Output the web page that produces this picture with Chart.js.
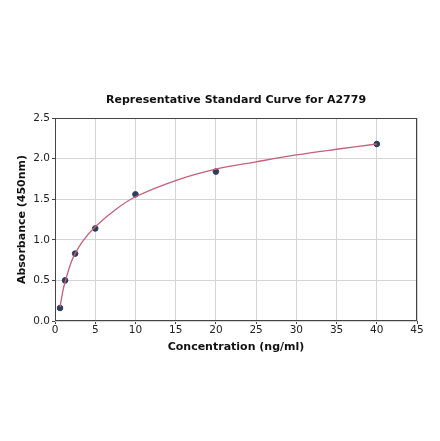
<!DOCTYPE html>
<html>
<head>
<meta charset="utf-8">
<script src="https://cdn.jsdelivr.net/npm/chart.js@4"></script>
<style>
  html, body { margin: 0; padding: 0; background: #ffffff; }
  #wrap { width: 440px; height: 441px; }
</style>
</head>
<body>
<div id="wrap"><canvas id="curveChart"></canvas></div>
<script>
// Standard points
const concentrations = [0.625, 1.25, 2.5, 5, 10, 20, 40];
const absorbances = [0.16, 0.50, 0.83, 1.14, 1.56, 1.84, 2.18];

// Fitted curve
const fitX = [0.625, 1, 1.25, 2, 2.5, 3.5, 5, 7.5, 10, 15, 20, 25, 30, 35, 40];
const fitY = [0.17, 0.38, 0.48, 0.72, 0.83, 0.99, 1.16, 1.37, 1.53, 1.73, 1.87, 1.96, 2.045, 2.115, 2.18];

const xTicks = [0, 5, 10, 15, 20, 25, 30, 35, 40, 45];
const yTicks = [0.0, 0.5, 1.0, 1.5, 2.0, 2.5];

const chartTitle = 'Representative Standard Curve for A2779';

Chart.defaults.font.family = "'DejaVu Sans', sans-serif";
Chart.defaults.color = "#222222";

// matplotlib-style box around the plot area, title centred over it
const frame = {
  id: 'frame',
  afterDatasetsDraw(chart) {
    const a = chart.chartArea, ctx = chart.ctx;
    ctx.save();
    ctx.strokeStyle = '#444444';
    ctx.lineWidth = 1;
    ctx.strokeRect(a.left + 0.5, a.top + 0.5, a.right - a.left - 1, a.bottom - a.top - 1);
    ctx.fillStyle = '#111111';
    ctx.font = "bold 11px 'DejaVu Sans', sans-serif";
    ctx.textAlign = 'center';
    ctx.textBaseline = 'middle';
    ctx.fillText(chartTitle, (a.left + a.right) / 2, a.top - 18);
    ctx.restore();
  }
};

new Chart(document.getElementById('curveChart'), {
  type: 'scatter',
  data: {
    datasets: [{
      label: 'Fit',
      type: 'line',
      data: fitX.map((x, i) => ({ x: x, y: fitY[i] })),
      borderColor: '#c5607c',
      borderWidth: 1.3,
      pointRadius: 0,
      tension: 0.35,
      fill: false
    }, {
      label: 'Standards',
      data: concentrations.map((x, i) => ({ x: x, y: absorbances[i] })),
      backgroundColor: '#2d3d5a',
      borderColor: '#2d3d5a',
      pointRadius: 2.8
    }]
  },
  options: {
    responsive: true,
    maintainAspectRatio: false,
    animation: false,
    layout: { padding: { top: 118, left: 12, right: 23, bottom: 83.6 } },
    plugins: {
      legend: { display: false },
      tooltip: { enabled: false },
      title: { display: false }
    },
    scales: {
      x: {
        type: 'linear',
        min: 0,
        max: 45,
        afterBuildTicks: (s) => { s.ticks = xTicks.map(v => ({ value: v })); },
        afterFit: (s) => { s.height = 36.4; },
        grid: { color: '#d4d4d4', tickColor: '#444444', tickLength: 3 },
        border: { display: false },
        ticks: { font: { size: 10.5 }, padding: 0, maxRotation: 0 },
        title: {
          display: true,
          text: 'Concentration (ng/ml)',
          color: '#111111',
          font: { size: 11, weight: 'bold' }
        }
      },
      y: {
        type: 'linear',
        min: 0,
        max: 2.5,
        afterBuildTicks: (s) => { s.ticks = yTicks.map(v => ({ value: v })); },
        afterFit: (s) => { s.width = 43; },
        grid: { color: '#d4d4d4', tickColor: '#444444', tickLength: 3 },
        border: { display: false },
        ticks: { font: { size: 10.5 }, padding: 2, callback: (v) => v.toFixed(1) },
        title: {
          display: true,
          text: 'Absorbance (450nm)',
          color: '#111111',
          font: { size: 11, weight: 'bold' }
        }
      }
    }
  },
  plugins: [frame]
});
</script>
</body>
</html>
